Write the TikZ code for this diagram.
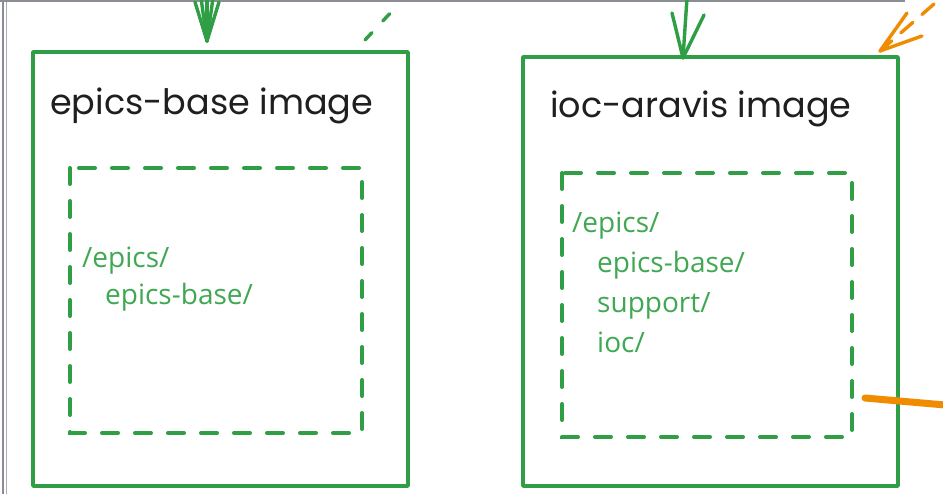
\documentclass[tikz,border=0pt]{standalone}
\usepackage{fontspec}
\setmainfont{Open Sans}
\newfontfamily\titlefont{Poppins}
\usetikzlibrary{arrows.meta}
\definecolor{exgreen}{HTML}{2F9E44}
\definecolor{txgreen}{HTML}{40A853}
\definecolor{exorange}{HTML}{F08C00}
\definecolor{framegray}{HTML}{8A8D93}
\tikzset{
  outerbox/.style={draw=exgreen, line width=3.4pt, line join=round},
  innerbox/.style={draw=exgreen, line width=4pt, dash pattern=on 16pt off 17pt, line cap=round},
  titletext/.style={anchor=base west, inner sep=0pt, font=\titlefont\fontsize{35}{40}\selectfont, text=black!88},
  pathtext/.style={anchor=base west, inner sep=0pt, font=\fontsize{28}{32}\selectfont, text=txgreen},
  greenarrow/.style={draw=exgreen, line width=3.4pt, line cap=round, line join=round},
  orangeline/.style={draw=exorange, line width=3.4pt, line cap=round, line join=round},
}
\begin{document}
\begin{tikzpicture}[x=1pt,y=-1pt]
\useasboundingbox (0,0) rectangle (943,494);
\fill[white] (0,0) rectangle (943,494);
% frame remnants
\draw[framegray, line width=1.4pt] (3,0) -- (3,494);
\draw[framegray!70, line width=1.2pt] (6.5,0) -- (6.5,494);
\draw[framegray, line width=1.4pt] (0,1) -- (905,1);

% left box
\coordinate (lb-nw) at (33,52);
\coordinate (lb-se) at (408,486);
\draw[outerbox] (lb-nw) rectangle (lb-se);
\node[titletext] (lt) at (50,115) {epics-base image};
\draw[innerbox] (70,168) rectangle (362,433);
\node[pathtext] (l1) at (82,268) {/epics/};
\node[pathtext] (l2) at (105,305) {epics-base/};

% right box
\coordinate (rb-nw) at (523,57);
\coordinate (rb-se) at (898,486);
\draw[outerbox] (rb-nw) rectangle (rb-se);
\node[titletext] (rt) at (550,118) {ioc-aravis image};
\draw[innerbox] (562,173) rectangle (852,437);
\node[pathtext] (r1) at (572,233) {/epics/};
\node[pathtext] (r2) at (597,273) {epics-base/};
\node[pathtext] (r3) at (597,313) {support/};
\node[pathtext] (r4) at (597,353) {ioc/};

% green arrows from above
\coordinate (la-start) at (207,-2);
\coordinate (la-tip) at (207,41);
\draw[greenarrow] (la-start) -- (la-tip);
\draw[greenarrow] (195,2) -- (la-tip) -- (219,2);
\draw[greenarrow] (201,-2) -- (la-tip) -- (213,-2);

\coordinate (ra-start) at (687,-2);
\coordinate (ra-tip) at (683,58);
\draw[greenarrow] (ra-start) -- (ra-tip);
\draw[greenarrow] (672,13) -- (ra-tip) -- (704,15);

% green dashed connector leaving top right of left box
\coordinate (gd-a) at (365,40);
\coordinate (gd-b) at (395,8);
\draw[greenarrow, dash pattern=on 10pt off 16pt] (gd-a) -- (gd-b);

% orange dashed arrow into right box corner
\coordinate (oa-tip) at (880,51);
\coordinate (oa-start) at (934,4);
\draw[orangeline, dash pattern=on 16pt off 12pt] (oa-start) -- (oa-tip);
\draw[orangeline] (907,13) -- (oa-tip) -- (922,36);

% orange thick line
\coordinate (ol-a) at (865,398);
\coordinate (ol-b) at (945,405);
\draw[draw=exorange, line width=7pt, line cap=round] (ol-a) -- (ol-b);
\end{tikzpicture}
\end{document}
